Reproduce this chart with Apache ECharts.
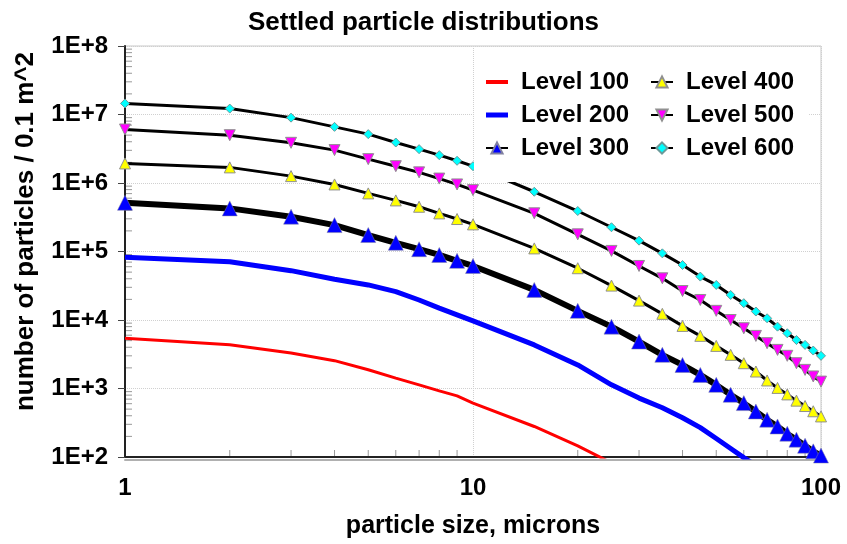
<!DOCTYPE html>
<html>
<head>
<meta charset="utf-8">
<script src="https://cdn.jsdelivr.net/npm/echarts@6/dist/echarts.min.js"></script>
<style>
html,body{margin:0;padding:0;background:#fff;}
#chart{width:847px;height:544px;}
</style>
</head>
<body>
<div id="chart"></div>
<script>
// particle sizes (microns)
const sizes = [1,2,3,4,5,6,7,8,9,10,15,20,25,30,35,40,45,50,55,60,65,70,75,80,85,90,95,100];
// counts per 0.1 m^2
const level100 = [5400,4350,3300,2550,1880,1420,1130,925,780,612,279,145,82,52];
const level200 = [82300,71000,52500,39300,32500,25900,19600,14900,11900,9700,4330,2210,1130,724,523,374,268,186,133,98,75];
const level300 = [514000,426000,322000,243000,174000,134000,108000,89000,73000,61500,27500,13600,8000,4840,3100,2210,1580,1130,810,612,462,350,279,219,179,146,121,105];
const level400 = [1930000,1690000,1260000,953000,705000,557000,450000,360000,298000,249000,111000,57000,31800,19200,12300,8200,5870,4190,3100,2340,1770,1310,1020,820,665,555,465,391];
const level500 = [6040000,4990000,3860000,3020000,2230000,1760000,1430000,1160000,953000,787000,361000,178000,102000,61500,40600,26500,19600,13600,10000,7580,5860,4590,3660,3000,2340,1870,1500,1260];
const level600 = [14500000,12200000,9000000,6600000,5170000,3900000,3120000,2550000,2110000,1760000,745000,390000,226000,144000,94000,63500,43000,32500,23200,17600,13300,10600,8000,6400,5100,4330,3580,3000];
const seriesNames = ['Level 100','Level 200','Level 300','Level 400','Level 500','Level 600'];
const xTickLabels = ['1','10','100'];
const yTickLabels = ['1E+2','1E+3','1E+4','1E+5','1E+6','1E+7','1E+8'];
const xMinorTicks = [2,3,4,5,6,7,8,9,20,30,40,50,60,70,80,90];
const yMinorTicks = [];
[100,1000,10000,100000,1000000,10000000].forEach(function(d){ for (let k=2;k<=9;k++) yMinorTicks.push(d*k); });

function pairs(vals){ const out=[]; vals.forEach(function(v,i){ if(v!=null) out.push([sizes[i], v]); }); return out; }

const FONT = "'Liberation Sans', Arial, sans-serif";
const chart = echarts.init(document.getElementById('chart'), null, {renderer:'canvas'});

const legendText = {fontFamily: FONT, fontWeight: 'bold', fontSize: 24, color: '#000', lineHeight: 22, padding: [0,0,0,8]};
const legendCommon = {orient: 'vertical', top: 60, itemGap: 9, itemWidth: 22, itemHeight: 14,
  backgroundColor: '#fff', textStyle: legendText, selectedMode: false};

const option = {
  backgroundColor: '#fff',
  animation: false,
  title: {
    text: 'Settled particle distributions',
    left: 'center',
    top: 5,
    textStyle: {fontFamily: FONT, fontWeight: 'bold', fontSize: 26, color: '#000'}
  },
  legend: [
    Object.assign({}, legendCommon, {
      left: 474, padding: [10, 12, 22, 11],
      data: [
        {name: seriesNames[0], icon: 'path://M0,0H22V4H0Z'},
        {name: seriesNames[1], icon: 'path://M0,0H22V5H0Z'},
        {name: seriesNames[2]}
      ]
    }),
    Object.assign({}, legendCommon, {
      left: 640, padding: [10, 15, 22, 10],
      data: seriesNames.slice(3)
    })
  ],
  grid: {left: 125, right: 26, top: 46, bottom: 87, show: true, borderColor: '#c8c8c8', borderWidth: 1,
         backgroundColor: '#fff', containLabel: false, outerBoundsMode: 'none'},
  xAxis: {
    type: 'log', logBase: 10, min: 1, max: 100,
    name: 'particle size, microns', nameLocation: 'middle', nameGap: 57,
    nameTextStyle: {fontFamily: FONT, fontWeight: 'bold', fontSize: 25, color: '#000'},
    axisLine: {lineStyle: {color: '#222', width: 2, shadowColor: '#b0b0b0', shadowOffsetY: 3, shadowBlur: 0}},
    axisTick: {show: false},
    axisLabel: {
      fontFamily: FONT, fontWeight: 'bold', fontSize: 24, color: '#000', margin: 19,
      formatter: function(v){ return xTickLabels[Math.round(Math.log10(v))]; }
    },
    splitLine: {show: true, lineStyle: {color: '#d0d0d0', type: 'dotted', width: 1}}
  },
  yAxis: {
    type: 'log', logBase: 10, min: 100, max: 100000000,
    name: 'number of particles / 0.1 m^2', nameLocation: 'middle', nameGap: 86,
    nameTextStyle: {fontFamily: FONT, fontWeight: 'bold', fontSize: 26, color: '#000', padding: [0,0,0,40]},
    axisLine: {lineStyle: {color: '#222', width: 2}},
    axisTick: {show: true, inside: false, length: 7, lineStyle: {color: '#444', width: 1}},
    axisLabel: {
      fontFamily: FONT, fontWeight: 'bold', fontSize: 24, color: '#000', margin: 17,
      formatter: function(v){ return yTickLabels[Math.round(Math.log10(v)) - 2]; }
    },
    splitLine: {show: true, lineStyle: {color: '#d0d0d0', type: 'dotted', width: 1}}
  },
  series: [
    {name: 'Level 100', type: 'line', data: pairs(level100), symbol: 'none', z: 3,
     lineStyle: {color: '#ff0000', width: 3}, itemStyle: {color: '#ff0000'}},
    {name: 'Level 200', type: 'line', data: pairs(level200), symbol: 'none', z: 3,
     lineStyle: {color: '#0000ff', width: 5}, itemStyle: {color: '#0000ff'}},
    {name: 'Level 300', type: 'line', data: pairs(level300), symbol: 'triangle', symbolSize: 15, z: 3,
     lineStyle: {color: '#000', width: 6}, itemStyle: {color: '#0000ff', borderColor: '#8080a0', borderWidth: 0.5}},
    {name: 'Level 400', type: 'line', data: pairs(level400), symbol: 'triangle', symbolSize: 11, z: 3,
     lineStyle: {color: '#000', width: 3}, itemStyle: {color: '#ffff00', borderColor: '#909090', borderWidth: 1}},
    {name: 'Level 500', type: 'line', data: pairs(level500), symbol: 'triangle', symbolRotate: 180, symbolSize: 11, z: 3,
     lineStyle: {color: '#000', width: 3}, itemStyle: {color: '#ff00ff', borderColor: '#909090', borderWidth: 1}},
    {name: 'Level 600', type: 'line', data: pairs(level600), symbol: 'diamond', symbolSize: 9, z: 3,
     lineStyle: {color: '#000', width: 3}, itemStyle: {color: '#00ffff', borderColor: '#6a9a9a', borderWidth: 1}},
    {type: 'custom', silent: true, z: 1,
     data: xMinorTicks.map(function(v){ return [v, 100]; }),
     renderItem: function(params, api){
       const p = api.coord([api.value(0), api.value(1)]);
       return {type: 'line', shape: {x1: p[0], y1: p[1]-1, x2: p[0], y2: p[1]-7}, style: {stroke: '#999', lineWidth: 1}};
     }},
    {type: 'custom', silent: true, z: 1,
     data: yMinorTicks.map(function(v){ return [1, v]; }),
     renderItem: function(params, api){
       const p = api.coord([api.value(0), api.value(1)]);
       return {type: 'line', shape: {x1: p[0]+1, y1: p[1], x2: p[0]+7, y2: p[1]}, style: {stroke: '#999', lineWidth: 1}};
     }}
  ]
};
chart.setOption(option);
</script>
</body>
</html>
